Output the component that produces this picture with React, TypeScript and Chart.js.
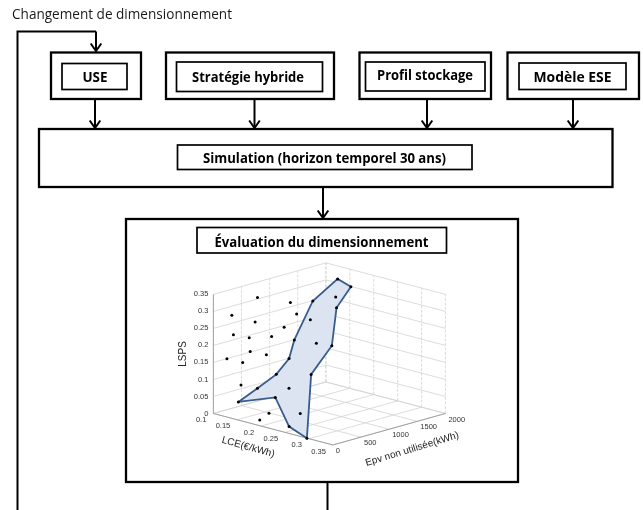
import React, { useEffect, useRef } from "react";
import { Chart, registerables } from "chart.js";

Chart.register(...registerables);

// ---------- data ----------
const LCE_TICKS = [0.1, 0.15, 0.2, 0.25, 0.3, 0.35];
const EPV_TICKS = [0, 500, 1000, 1500, 2000];
const LSPS_TICKS = [0, 0.05, 0.1, 0.15, 0.2, 0.25, 0.3, 0.35];
const LCE_LABELS = ["0.1", "0.15", "0.2", "0.25", "0.3", "0.35"];
const EPV_LABELS = ["0", "500", "1000", "1500", "2000"];
const LSPS_LABELS = ["0", "0.05", "0.1", "0.15", "0.2", "0.25", "0.3", "0.35"];

// Pareto front (shaded patch) : LCE (€/kWh), Epv non utilisée (kWh), LSPS
const FRONT_LCE = [0.1405, 0.157, 0.1727, 0.176, 0.1634, 0.1667, 0.148, 0.164, 0.1457, 0.1477, 0.1397, 0.2957, 0.2585, 0.206];
const FRONT_EPV = [100, 300, 500, 700, 900, 1200, 1800, 1900, 1800, 1700, 1400, 0, 0, 200];
const FRONT_LSPS = [0.0442, 0.0816, 0.1187, 0.157, 0.198, 0.2998, 0.33, 0.308, 0.244, 0.138, 0.0647, 0.0, 0.0202, 0.0771];

// other evaluated designs
const SOL_LCE = [0.1452, 0.214, 0.1151, 0.1403, 0.2271, 0.1184, 0.1279, 0.1748, 0.201, 0.13, 0.1638, 0.1048, 0.1143, 0.1107, 0.2163, 0.197, 0.164, 0.2465, 0.138, 0.1506, 0.144];
const SOL_EPV = [400, 400, 200, 400, 400, 200, 400, 400, 400, 400, 400, 200, 400, 400, 0, 0, 800, 300, 1400, 1400, 1800];
const SOL_LSPS = [0.3387, 0.3497, 0.2847, 0.2654, 0.3207, 0.229, 0.2146, 0.2357, 0.2726, 0.1748, 0.1778, 0.1536, 0.1363, 0.0694, 0.044, 0.0166, 0.061, 0.04, 0.225, 0.16, 0.275];

// ---------- view geometry (3D -> page) ----------
const VIEW = {
  ox: 212, oy: 416, // (LCE min, Epv 0, LSPS 0)
  lx: 121, ly: 32, // full LCE span
  ex: 114, ey: -32, // full Epv span
  zh: 121, // full LSPS span (0 -> 0.35)
  lceMin: 0.1, lceMax: 0.35, epvMax: 2000, zMax: 0.35,
};

function project(lce: number, epv: number, z: number) {
  const a = (lce - VIEW.lceMin) / (VIEW.lceMax - VIEW.lceMin);
  const b = epv / VIEW.epvMax;
  const c = z / VIEW.zMax;
  return {
    x: VIEW.ox + a * VIEW.lx + b * VIEW.ex,
    y: VIEW.oy + a * VIEW.ly + b * VIEW.ey - c * VIEW.zh,
  };
}

const FONT_BOX = '"Open Sans", "Noto Sans", sans-serif';
const FONT_AX = '"Liberation Sans", Arial, sans-serif';

function fitText(ctx: CanvasRenderingContext2D, text: string, cx: number, baseline: number, width: number, font: string, align: "center" | "left" = "center") {
  ctx.save();
  ctx.font = font;
  ctx.textBaseline = "alphabetic";
  ctx.textAlign = "left";
  const w = ctx.measureText(text).width;
  const s = width / w;
  const left = align === "center" ? cx - width / 2 : cx;
  ctx.translate(left, baseline);
  ctx.scale(s, 1);
  ctx.fillText(text, 0, 0);
  ctx.restore();
}

function box(ctx: CanvasRenderingContext2D, x0: number, y0: number, x1: number, y1: number, lw: number) {
  ctx.lineWidth = lw;
  ctx.strokeRect(x0, y0, x1 - x0, y1 - y0);
}

function arrowDown(ctx: CanvasRenderingContext2D, x: number, y0: number, y1: number) {
  ctx.lineWidth = 2;
  ctx.beginPath();
  ctx.moveTo(x, y0);
  ctx.lineTo(x, y1 - 1);
  ctx.stroke();
  ctx.beginPath();
  ctx.moveTo(x - 5.3, y1 - 8.5);
  ctx.lineTo(x, y1 - 1);
  ctx.lineTo(x + 5.3, y1 - 8.5);
  ctx.stroke();
}

const diagramPlugin = {
  id: "diagram",
  beforeDatasetsDraw(chart: any) {
    const ctx: CanvasRenderingContext2D = chart.ctx;
    const sx = chart.scales.x;
    const sy = chart.scales.y;
    const P = (l: number, e: number, z: number) => {
      const p = project(l, e, z);
      return { x: sx.getPixelForValue(p.x), y: sy.getPixelForValue(p.y) };
    };
    ctx.save();
    // ---- flowchart ----
    ctx.strokeStyle = "#000";
    ctx.fillStyle = "#1a1a1a";
    ctx.lineCap = "butt";
    ctx.lineJoin = "miter";
    fitText(ctx, "Changement de dimensionnement", 12, 18.5, 220, `14px ${FONT_BOX}`, "left");

    // feedback loop
    ctx.lineWidth = 2;
    ctx.beginPath();
    ctx.moveTo(17.5, 512);
    ctx.lineTo(17.5, 31.5);
    ctx.lineTo(96, 31.5);
    ctx.stroke();
    arrowDown(ctx, 96, 31.5, 52);

    // input boxes
    box(ctx, 51, 52.5, 141, 99, 2.3);
    box(ctx, 62, 63.5, 127, 89.5, 1.7);
    box(ctx, 166, 52.5, 334, 99, 2.3);
    box(ctx, 176.5, 62, 322.5, 91.5, 1.7);
    box(ctx, 359.5, 52.5, 491, 99, 2.3);
    box(ctx, 365.5, 62, 485, 91, 1.7);
    box(ctx, 507.5, 52.5, 639, 99, 2.3);
    box(ctx, 519, 63, 626, 89.5, 1.7);
    ctx.fillStyle = "#000";
    const bold = `bold 13.5px ${FONT_BOX}`;
    fitText(ctx, "USE", 95, 82, 25, bold);
    fitText(ctx, "Stratégie hybride", 248, 81.5, 112, bold);
    fitText(ctx, "Profil stockage", 425, 79.5, 96, bold);
    fitText(ctx, "Modèle ESE", 572.5, 82, 78, bold);

    arrowDown(ctx, 95, 99, 129);
    arrowDown(ctx, 254.5, 99, 129);
    arrowDown(ctx, 427, 99, 129);
    arrowDown(ctx, 573, 99, 129);

    // simulation
    box(ctx, 39, 129, 612.5, 187, 2.3);
    box(ctx, 177.5, 145, 472, 169.5, 1.7);
    fitText(ctx, "Simulation (horizon temporel 30 ans)", 324.5, 162.8, 243, bold);
    arrowDown(ctx, 323, 187, 219);

    // evaluation
    box(ctx, 126, 219, 518, 482, 2.3);
    box(ctx, 197, 227.5, 446.5, 253, 1.7);
    fitText(ctx, "Évaluation du dimensionnement", 321.5, 246.5, 214, `bold 14.5px ${FONT_BOX}`);
    ctx.lineWidth = 2;
    ctx.beginPath();
    ctx.moveTo(327.5, 482);
    ctx.lineTo(327.5, 512);
    ctx.stroke();

    // ---- 3D axes ----
    const lmin = VIEW.lceMin, lmax = VIEW.lceMax, emax = VIEW.epvMax, zmax = VIEW.zMax;
    const seg = (a: { x: number; y: number }, b: { x: number; y: number }) => {
      ctx.beginPath();
      ctx.moveTo(a.x, a.y);
      ctx.lineTo(b.x, b.y);
      ctx.stroke();
    };
    ctx.strokeStyle = "#d3d3d3";
    ctx.lineWidth = 0.8;
    ctx.setLineDash([]);
    LSPS_TICKS.forEach((z) => {
      seg(P(lmin, 0, z), P(lmin, emax, z));
      seg(P(lmin, emax, z), P(lmax, emax, z));
    });
    LCE_TICKS.forEach((l) => seg(P(l, 0, 0), P(l, emax, 0)));
    EPV_TICKS.forEach((e) => seg(P(lmin, e, 0), P(lmax, e, 0)));
    ctx.setLineDash([3, 1.5]);
    EPV_TICKS.forEach((e) => seg(P(lmin, e, 0), P(lmin, e, zmax)));
    LCE_TICKS.forEach((l) => seg(P(l, emax, 0), P(l, emax, zmax)));
    ctx.setLineDash([]);
    ctx.strokeStyle = "#999";
    ctx.lineWidth = 0.9;
    seg(P(lmin, 0, 0), P(lmin, 0, zmax));
    seg(P(lmin, 0, 0), P(lmax, 0, 0));
    seg(P(lmax, 0, 0), P(lmax, emax, 0));

    // tick labels
    ctx.fillStyle = "#333";
    ctx.font = `7.5px ${FONT_AX}`;
    ctx.textAlign = "right";
    ctx.textBaseline = "middle";
    LSPS_TICKS.forEach((z, i) => {
      const p = P(lmin, 0, z);
      ctx.fillText(LSPS_LABELS[i], p.x - 5, p.y);
    });
    LCE_TICKS.forEach((l, i) => {
      const p = P(l, 0, 0);
      ctx.fillText(LCE_LABELS[i], p.x - 7, p.y + 6.5);
    });
    ctx.textAlign = "left";
    EPV_TICKS.forEach((e, i) => {
      const p = P(lmax, e, 0);
      ctx.fillText(EPV_LABELS[i], p.x + 3, p.y + 6);
    });

    // axis titles
    ctx.fillStyle = "#222";
    ctx.font = `10px ${FONT_AX}`;
    ctx.textAlign = "center";
    ctx.textBaseline = "middle";
    const zc = P(lmin, 0, zmax / 2);
    ctx.save();
    ctx.translate(zc.x - 30, zc.y);
    ctx.rotate(-Math.PI / 2);
    ctx.fillText("LSPS", 0, 0);
    ctx.restore();
    const lc = P((lmin + lmax) / 2, 0, 0);
    ctx.save();
    ctx.translate(lc.x - 25, lc.y + 18);
    ctx.rotate((15.5 * Math.PI) / 180);
    ctx.fillText("LCE(€/kWh)", 0, 0);
    ctx.restore();
    const ec = P(lmax, emax / 2, 0);
    ctx.save();
    ctx.translate(ec.x + 23, ec.y + 20);
    ctx.rotate((-17 * Math.PI) / 180);
    ctx.fillText("Epv non utilisée(kWh)", 0, 0);
    ctx.restore();

    ctx.restore();
  },
};

export default function App() {
  const ref = useRef<HTMLCanvasElement>(null);
  useEffect(() => {
    if (!ref.current) return;
    const front = FRONT_LCE.map((l, i) => project(l, FRONT_EPV[i], FRONT_LSPS[i]));
    const sols = SOL_LCE.map((l, i) => project(l, SOL_EPV[i], SOL_LSPS[i]));
    const chart = new Chart(ref.current, {
      type: "scatter",
      data: {
        datasets: [
          {
            type: "scatter",
            label: "Solutions",
            data: [...sols, ...front],
            pointRadius: 1.5,
            pointBackgroundColor: "#000",
            pointBorderWidth: 0,
            order: 0,
          } as any,
          {
            type: "line",
            label: "Front",
            data: [...front, front[0]],
            borderColor: "#3a5b8e",
            borderWidth: 1.8,
            backgroundColor: "#dbe4f0",
            fill: "shape",
            pointRadius: 0,
            tension: 0,
            order: 1,
          } as any,
        ],
      },
      options: {
        animation: false,
        responsive: false,
        maintainAspectRatio: false,
        events: [],
        layout: { padding: 0 },
        plugins: { legend: { display: false }, tooltip: { enabled: false } },
        scales: {
          x: { type: "linear", min: 0, max: 643, display: false },
          y: { type: "linear", min: 0, max: 510, reverse: true, display: false },
        },
      },
      plugins: [diagramPlugin],
    });
    return () => chart.destroy();
  }, []);
  return (
    <div style={{ position: "fixed", left: 0, top: 0, width: 643, height: 510, background: "#fff" }}>
      <canvas ref={ref} width={643} height={510} style={{ width: 643, height: 510, display: "block" }} />
    </div>
  );
}
